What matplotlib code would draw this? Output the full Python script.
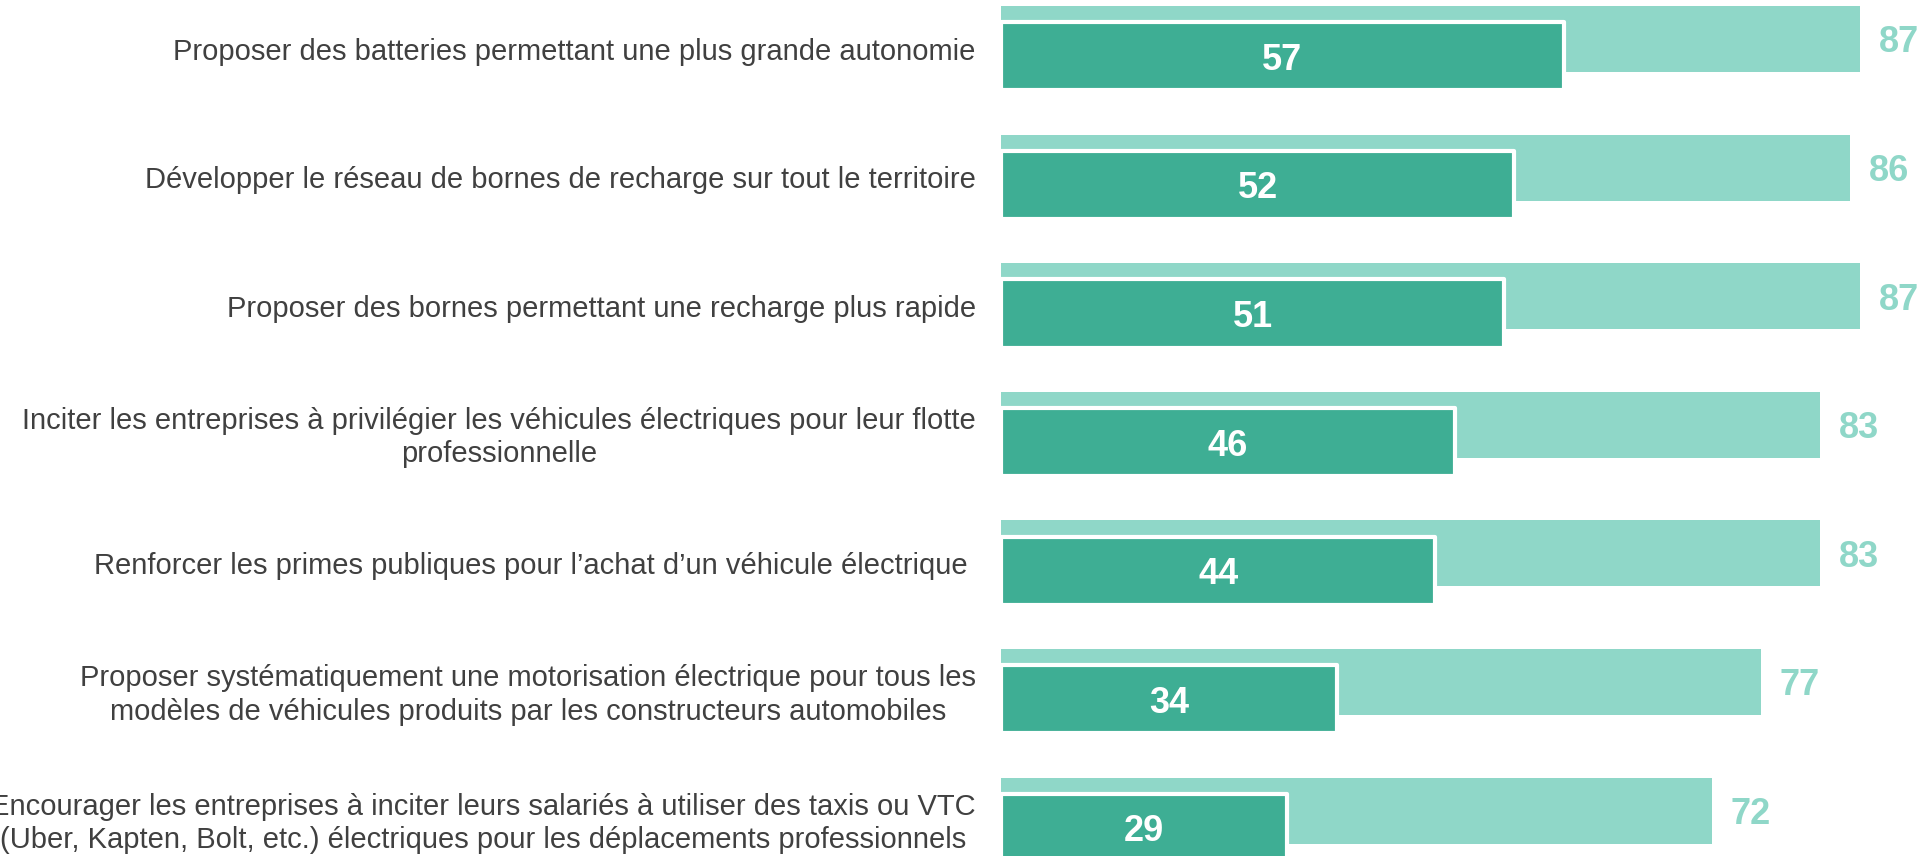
import matplotlib
matplotlib.use("Agg")
import matplotlib.pyplot as plt
import numpy as np

plt.rcParams['font.family'] = ['Liberation Sans', 'DejaVu Sans']

categories = [
    "Proposer des batteries permettant une plus grande autonomie",
    "Développer le réseau de bornes de recharge sur tout le territoire",
    "Proposer des bornes permettant une recharge plus rapide",
    "Inciter les entreprises à privilégier les véhicules électriques pour leur flotte\nprofessionnelle",
    "Renforcer les primes publiques pour l\u2019achat d\u2019un véhicule électrique ",
    "Proposer systématiquement une motorisation électrique pour tous les\nmodèles de véhicules produits par les constructeurs automobiles",
    "Encourager les entreprises à inciter leurs salariés à utiliser des taxis ou VTC\n(Uber, Kapten, Bolt, etc.) électriques pour les déplacements professionnels",
]
total_values = [87, 86, 87, 83, 83, 77, 72]   # light bars
main_values = [57, 52, 51, 46, 44, 34, 29]    # dark bars

light = "#8fd7c8"
dark = "#3eae94"
text_gray = "#404040"

fig = plt.figure(figsize=(19.26, 8.56), dpi=100)
ax = fig.add_axes([0, 0, 1, 1])

y = np.arange(len(categories))
off = 0.135

ax.barh(y, total_values, height=0.513, color=light, edgecolor='none', zorder=1)
ax.barh(y + off, main_values, height=0.53, color=dark, edgecolor='white',
        linewidth=3, joinstyle='round', zorder=2)

for i, (cat, tv, mv) in enumerate(zip(categories, total_values, main_values)):
    ax.text(mv / 2, i + off + 0.03, str(mv), ha='center', va='center', color='white',
            fontsize=26, fontweight='bold', zorder=3)
    ax.text(tv + 1.9, i + 0.03, str(tv), ha='left', va='center', color=light,
            fontsize=26, fontweight='bold', zorder=3)
    ax.text(-2.55, i + 0.1, cat, ha='right', va='center', multialignment='center',
            color=text_gray, fontsize=21, linespacing=1.25)

ax.set_xlim(-101.4, 93.7)
ax.set_ylim(6.353, -0.303)
ax.axis('off')

fig.savefig("out.png", dpi=100)
